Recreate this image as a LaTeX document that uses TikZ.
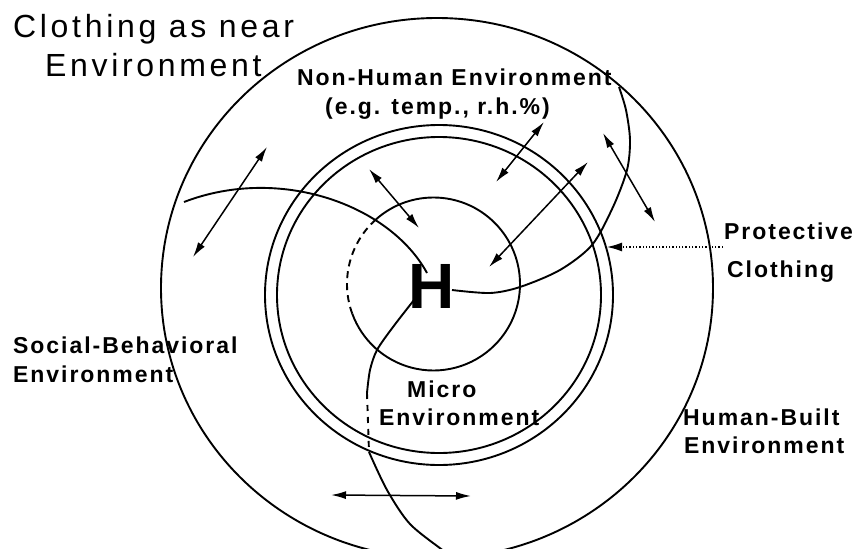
\documentclass[tikz,border=0pt]{standalone}
\usepackage{fontspec}
\setmainfont{Liberation Sans}
\newfontfamily\titlefont[LetterSpace=11.5]{Liberation Sans}
\newfontfamily\labelfont[LetterSpace=8.5]{Liberation Sans}
\usetikzlibrary{arrows.meta}
\tikzset{
    ring/.style={line width=1.9pt},
    swap/.style={line width=1.5pt, {Latex[length=15pt,width=8pt]}-{Latex[length=15pt,width=8pt]}},
    lbl/.style={font={\labelfont\bfseries\fontsize{23}{27}\selectfont}, inner sep=0pt, anchor=base west},
    bigtitle/.style={font={\titlefont\fontsize{32}{38}\selectfont}, inner sep=0pt, anchor=base west},
}
\begin{document}
\begin{tikzpicture}[x=1pt, y=-1pt]
    \useasboundingbox (0,0) rectangle (852,549);

    % Title
    \node[bigtitle] (title1) at (13,37) {Clothing as near};
    \node[bigtitle] (title2) at (45,76) {Environment};

    % Outer boundary
    \draw[ring] (437,288) ellipse [x radius=276, y radius=270];

    % Protective clothing (double ring)
    \draw[ring] (439,295) ellipse [x radius=174, y radius=170];
    \draw[ring] (439,295) ellipse [x radius=162, y radius=158];

    % Micro environment circle
    \coordinate (M) at (433.5,284);
    \draw[ring] (M) ++(225:86.5) arc[start angle=225, end angle=520, radius=86.5];
    \draw[ring, dash pattern=on 7pt off 5pt] (M) ++(160:86.5) arc[start angle=160, end angle=225, radius=86.5];

    % Human
    \node[font={\bfseries\fontsize{64}{70}\selectfont}, inner sep=0pt] (H) at (432,286) {H};

    % Boundary curves
    \draw[ring] (184,202) .. controls (280,165) and (390,205) .. (427,273);
    \draw[ring] plot[smooth] coordinates {
        (452,290) (490,293) (520,287) (560,270) (592,245) (613,207)
        (627,170) (630,140) (626,110) (619,87)};
    \draw[ring] plot[smooth] coordinates {(414,300) (393,327) (377,350) (370,370) (367,393)};
    \draw[ring, dash pattern=on 6pt off 6pt] (367,393) -- (369,452);
    \draw[ring] plot[smooth] coordinates {(369,452) (387,490) (410,524) (445,552) (462,566)};

    % Exchange arrows
    \draw[swap] (267,147) -- (193,257);
    \draw[swap] (369,169) -- (419,228);
    \draw[swap] (544,122) -- (496,182);
    \draw[swap] (588,162) -- (489,267);
    \draw[swap] (603,133) -- (655,222);
    \draw[swap] (331,495) -- (471,496);

    % Labels
    \node[lbl] (nonhuman) at (297,85) {Non-Human Environment};
    \node[lbl] (eg) at (325,114) {(e.g. temp., r.h.\%)};
    \node[lbl] (prot1) at (724,239) {Protective};
    \node[lbl] (prot2) at (727,277) {Clothing};
    \node[lbl] (social1) at (13,353) {Social-Behavioral};
    \node[lbl] (social2) at (13,382) {Environment};
    \node[lbl] (micro1) at (407,397) {Micro};
    \node[lbl] (micro2) at (379,425) {Environment};
    \node[lbl] (built1) at (683,425) {Human-Built};
    \node[lbl] (built2) at (684,453) {Environment};

    % Pointer to the clothing layer
    \coordinate (clothtail) at (723,247);
    \coordinate (clothtip) at (607,247);
    \draw[line width=1.3pt, dotted, -{Latex[length=15pt,width=9pt]}] (clothtail) -- (clothtip);
\end{tikzpicture}
\end{document}
